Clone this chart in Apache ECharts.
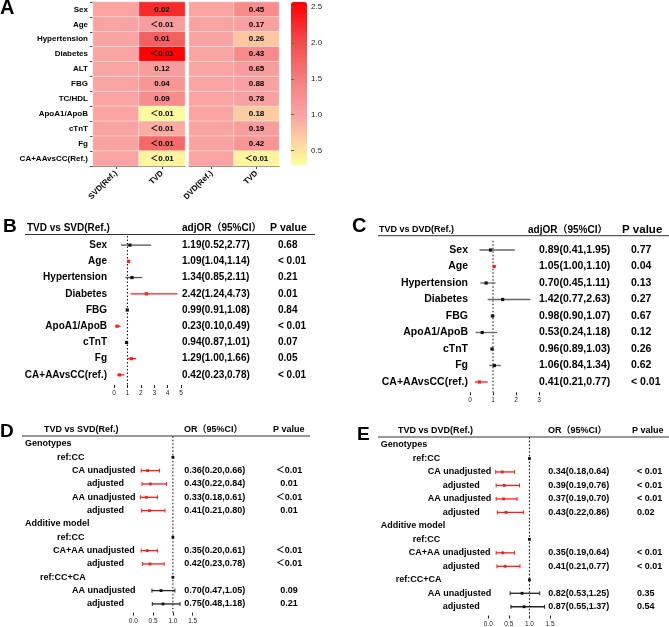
<!DOCTYPE html>
<html><head><meta charset="utf-8">
<script src="https://cdn.jsdelivr.net/npm/echarts@6/dist/echarts.min.js"></script>
<style>html,body{margin:0;padding:0;background:#fff}#c{width:669px;height:627px}#err{position:absolute;left:0;top:0;font:10px monospace;white-space:pre;color:#00f}</style>
</head><body><div id="c"></div><div id="err"></div>
<script>
// ---------- Panel A data (heatmap of OR, labelled with P values) ----------
const heatRows = ['Sex','Age','Hypertension','Diabetes','ALT','FBG','TC/HDL','ApoA1/ApoB','cTnT','Fg','CA+AAvsCC(Ref.)'];
const heatColsSVD = ['SVD(Ref.)','TVD'];
const heatColsDVD = ['DVD(Ref.)','TVD'];
const refOR = 1.0;
const heatOrSVD = [2.25,1.08,1.8,2.55,1.08,1.18,1.28,0.33,0.93,1.7,0.38];
const heatOrDVD = [1.3,1.05,0.72,1.32,1.08,1.03,1.05,0.68,1.08,1.18,0.38];
const heatPSVD = ['0.02','＜0.01','0.01','＜0.01','0.12','0.04','0.09','＜0.01','＜0.01','＜0.01','＜0.01'];
const heatPDVD = ['0.45','0.17','0.26','0.43','0.65','0.88','0.78','0.18','0.19','0.42','＜0.01'];
const heatScaleTicks = [0.5,1.0,1.5,2.0,2.5];
const heatScaleMin = 0.3, heatScaleMax = 2.57;

// ---------- Panel B ----------
const bRows = ['Sex','Age','Hypertension','Diabetes','FBG','ApoA1/ApoB','cTnT','Fg','CA+AAvsCC(ref.)'];
const bOR = [1.19,1.09,1.34,2.42,0.99,0.23,0.94,1.29,0.42];
const bLo = [0.52,1.04,0.85,1.24,0.91,0.10,0.87,1.00,0.23];
const bHi = [2.77,1.14,2.11,4.73,1.08,0.49,1.01,1.66,0.78];
const bP = ['0.68','< 0.01','0.21','0.01','0.84','< 0.01','0.07','0.05','< 0.01'];
const bTicks = [0,1,2,3,4,5];

// ---------- Panel C ----------
const cRows = ['Sex','Age','Hypertension','Diabetes','FBG','ApoA1/ApoB','cTnT','Fg','CA+AAvsCC(ref.)'];
const cOR = [0.89,1.05,0.70,1.42,0.98,0.53,0.96,1.06,0.41];
const cLo = [0.41,1.00,0.45,0.77,0.90,0.24,0.89,0.84,0.21];
const cHi = [1.95,1.10,1.11,2.63,1.07,1.18,1.03,1.34,0.77];
const cP = ['0.77','0.04','0.13','0.27','0.67','0.12','0.26','0.62','< 0.01'];
const cTicks = [0,1,2,3];

// ---------- Panel D ----------
const dRows = ['Genotypes','ref:CC','CA unadjusted','adjusted','AA unadjusted','adjusted','Additive model','ref:CC','CA+AA unadjusted','adjusted','ref:CC+CA','AA unadjusted','adjusted'];
const dOR = [null,1,0.36,0.43,0.33,0.41,null,1,0.35,0.42,1,0.70,0.75];
const dLo = [null,null,0.20,0.22,0.18,0.21,null,null,0.20,0.23,null,0.47,0.48];
const dHi = [null,null,0.66,0.84,0.61,0.80,null,null,0.61,0.78,null,1.05,1.18];
const dP = ['','','＜0.01','0.01','＜0.01','0.01','','','＜0.01','＜0.01','','0.09','0.21'];
const dTicks = [0,0.5,1.0,1.5];

// ---------- Panel E ----------
const eRows = ['Genotypes','ref:CC','CA unadjusted','adjusted','AA unadjusted','adjusted','Additive model','ref:CC','CA+AA unadjusted','adjusted','ref:CC+CA','AA unadjusted','adjusted'];
const eOR = [null,1,0.34,0.39,0.37,0.43,null,1,0.35,0.41,1,0.82,0.87];
const eLo = [null,null,0.18,0.19,0.19,0.22,null,null,0.19,0.21,null,0.53,0.55];
const eHi = [null,null,0.64,0.76,0.70,0.86,null,null,0.64,0.77,null,1.25,1.37];
const eP = ['','','< 0.01','< 0.01','< 0.01','0.02','','','< 0.01','< 0.01','','0.35','0.54'];
const eTicks = [0,0.5,1.0,1.5];

// ---------- styling / layout ----------
const FONT = '"Liberation Sans", Arial, "Noto Sans CJK SC", sans-serif';
const RED = '#ff1a1a', BLACK = '#111';
const rowIndent = [0,32,47,62,47,62,0,32,28,62,15,47,62];

const colorStops = [[0.3,[255,255,156]],[0.7,[252,201,160]],[1.0,[249,163,163]],[1.5,[246,124,124]],[2.0,[243,76,76]],[2.57,[255,0,0]]];
function colorAt(v){
  for (let i=0;i<colorStops.length-1;i++){
    const [a,ca]=colorStops[i],[b,cb]=colorStops[i+1];
    if (v<=b){const t=(v-a)/(b-a);return 'rgb('+ca.map((x,k)=>Math.round(x+(cb[k]-x)*t)).join(',')+')';}
  }
  return 'rgb(255,0,0)';
}
const heatColors=[];for(let i=0;i<=60;i++){heatColors.push(colorAt(heatScaleMin+(heatScaleMax-heatScaleMin)*i/60));}

const option = {animation:false, backgroundColor:'#fff', textStyle:{fontFamily:FONT},
  grid:[], xAxis:[], yAxis:[], series:[], graphic:[], visualMap:[]};

// ---------- heatmap ----------
function addHeat(cols, orVals, pVals, L, showY){
  const gi = option.grid.length;
  option.grid.push({left:L.left, top:L.top, width:L.width, height:L.height});
  option.xAxis.push({type:'category', gridIndex:gi, data:cols,
    axisLine:{lineStyle:{color:'#444'}}, axisTick:{show:true, alignWithLabel:true, length:3, lineStyle:{color:'#444'}},
    axisLabel:{rotate:45, fontSize:8, fontWeight:'bold', color:'#000', margin:6, interval:0, fontFamily:FONT}});
  option.yAxis.push({type:'category', gridIndex:gi, data:heatRows, inverse:true,
    axisLine:{show:showY, lineStyle:{color:'#444'}}, axisTick:{show:showY, length:3, lineStyle:{color:'#444'}},
    axisLabel:{show:showY, fontSize:8, fontWeight:'bold', color:'#000', margin:5, interval:0, fontFamily:FONT}});
  const data=[];
  heatRows.forEach((r,i)=>{data.push([0,i,refOR]);data.push([1,i,orVals[i]]);});
  option.series.push({type:'heatmap', xAxisIndex:gi, yAxisIndex:gi, data,
    itemStyle:{borderColor:'rgba(255,255,255,0.45)', borderWidth:1},
    label:{show:true, fontSize:8, fontWeight:'bold', color:'#000', fontFamily:FONT,
      formatter:p=>p.value[0]===1?pVals[p.value[1]]:''}});
  return option.series.length-1;
}
const s1 = addHeat(heatColsSVD, heatOrSVD, heatPSVD, {left:93, top:2, width:92, height:164}, true);
const s2 = addHeat(heatColsDVD, heatOrDVD, heatPDVD, {left:189, top:2, width:90, height:164}, false);
option.visualMap.push({type:'continuous', min:heatScaleMin, max:heatScaleMax, seriesIndex:[s1,s2],
  inRange:{color:heatColors}, orient:'vertical', left:291, top:2, itemWidth:16, itemHeight:163,
  calculable:false, padding:0, hoverLink:false});
// colour-bar scale axis
{
  const gi = option.grid.length;
  option.grid.push({left:291, top:2, width:16, height:163});
  option.xAxis.push({type:'value', gridIndex:gi, show:false, min:0, max:1});
  option.yAxis.push({type:'value', gridIndex:gi, position:'right', min:heatScaleMin, max:heatScaleMax, z:10,
    splitLine:{show:false}, axisLine:{show:false},
    axisTick:{show:true, length:3, customValues:heatScaleTicks, lineStyle:{color:'#666'}},
    axisLabel:{fontSize:8, color:'#222', margin:4, customValues:heatScaleTicks, formatter:v=>v.toFixed(1), fontFamily:FONT}});
}

// ---------- forest panels ----------
function ciText(o,lo,hi){return (o==null||lo==null)?'':o.toFixed(2)+'('+lo.toFixed(2)+','+hi.toFixed(2)+')';}
function addForest(rows, orV, loV, hiV, pV, ticks, L){
  const gi = option.grid.length;
  option.grid.push({left:L.left, top:L.top, width:L.width, height:L.height});
  const step = ticks[1]-ticks[0];
  option.xAxis.push({type:'value', gridIndex:gi, min:ticks[0], max:ticks[ticks.length-1], interval:step, offset:2,
    splitLine:{show:false}, axisLine:{lineStyle:{color:'#222', width:1}},
    axisTick:{show:true, length:3, lineStyle:{color:'#222'}},
    axisLabel:{fontSize:6.5, color:'#222', margin:5, fontFamily:FONT, formatter:v=>step<1?v.toFixed(1):String(v)}});
  const yb = option.yAxis.length;
  const lbl = {fontSize:L.fs, fontWeight:'bold', color:'#000', interval:0, fontFamily:FONT};
  if (L.indent){
    const rich={};rows.forEach((r,i)=>{rich['k'+i]={padding:[0,0,0,rowIndent[i]], fontSize:L.fs, fontWeight:'bold', color:'#000', fontFamily:FONT};});
    option.yAxis.push({type:'category', gridIndex:gi, inverse:true, data:rows, position:'left',
      axisLine:{show:false}, axisTick:{show:false}, splitLine:{show:false},
      axisLabel:Object.assign({}, lbl, {align:'left', margin:L.labelMargin, rich, formatter:(v,i)=>'{k'+i+'|'+v+'}'})});
  } else {
    option.yAxis.push({type:'category', gridIndex:gi, inverse:true, data:rows, position:'left',
      axisLine:{show:false}, axisTick:{show:false}, splitLine:{show:false},
      axisLabel:Object.assign({}, lbl, {margin:L.labelMargin})});
  }
  const ids = rows.map((r,i)=>String(i));
  option.yAxis.push({type:'category', gridIndex:gi, inverse:true, data:ids, position:'right',
    axisLine:{show:false}, axisTick:{show:false}, splitLine:{show:false},
    axisLabel:Object.assign({}, lbl, {align:'left', margin:L.orMargin, formatter:(v,i)=>ciText(orV[i],loV[i],hiV[i])})});
  option.yAxis.push({type:'category', gridIndex:gi, inverse:true, data:ids, position:'right',
    axisLine:{show:false}, axisTick:{show:false}, splitLine:{show:false},
    axisLabel:Object.assign({}, lbl, {align:L.pAlign, margin:L.pMargin, formatter:(v,i)=>pV[i]})});
  const data = orV.map((o,i)=>[i, o==null?'-':o, loV[i]==null?'-':loV[i], hiV[i]==null?'-':hiV[i]]);
  const nRows = rows.length;
  option.series.push({type:'custom', coordinateSystem:'cartesian2d', xAxisIndex:gi, yAxisIndex:yb, data,
    dimensions:[{name:'row', type:'ordinal'},{name:'or',type:'number'},{name:'lo',type:'number'},{name:'hi',type:'number'}],
    encode:{y:0, x:[1,2,3]}, silent:true, z:5,
    renderItem:(params, api)=>{
      const r=params.dataIndex, o=api.value(1), lo=api.value(2), hi=api.value(3);
      const kids=[];
      if (params.dataIndex===0){
        const band = api.size([0,1])[1];
        const t = api.coord([1,0]), b = api.coord([1,nRows-1]);
        kids.push({type:'line', shape:{x1:t[0],y1:t[1]-band/2-1,x2:b[0],y2:b[1]+band/2+2}, style:{stroke:'#000', lineWidth:1, lineDash:[1.5,2]}});
      }
      if (isNaN(o)) return {type:'group', children:kids};
      const hasCI = !isNaN(lo) && !isNaN(hi);
      const sig = hasCI && (lo>=1 || hi<=1);
      const c = api.coord([o, r]);
      if (hasCI){
        const a=api.coord([lo,r]), b=api.coord([hi,r]);
        const col = sig?RED:L.grey;
        kids.push({type:'line', shape:{x1:a[0],y1:a[1],x2:b[0],y2:b[1]}, style:{stroke:col, lineWidth:L.lw}});
        if (L.caps){
          kids.push({type:'line', shape:{x1:a[0],y1:a[1]-2,x2:a[0],y2:a[1]+2}, style:{stroke:col, lineWidth:1}});
          kids.push({type:'line', shape:{x1:b[0],y1:b[1]-2,x2:b[0],y2:b[1]+2}, style:{stroke:col, lineWidth:1}});
        }
      }
      const s = L.pt;
      kids.push({type:'rect', shape:{x:c[0]-s/2, y:c[1]-s/2, width:s, height:s}, style:{fill:sig?RED:BLACK}});
      return {type:'group', children:kids};
    }});
}
addForest(bRows,bOR,bLo,bHi,bP,bTicks,{left:114, top:237, width:67, height:146, fs:10, labelMargin:7, orMargin:1, pMargin:97, pAlign:'left', lw:1.3, caps:false, pt:3.2, grey:'#555'});
addForest(cRows,cOR,cLo,cHi,cP,cTicks,{left:470, top:241.75, width:69, height:148.5, fs:10.5, labelMargin:2, orMargin:0, pMargin:92, pAlign:'left', lw:1.3, caps:false, pt:3.2, grey:'#666'});
addForest(dRows,dOR,dLo,dHi,dP,dTicks,{left:133.3, top:437.3, width:59.4, height:173.3, fs:9, indent:true, labelMargin:108.3, orMargin:-8.4, pMargin:96.3, pAlign:'center', lw:1.3, caps:true, pt:2.8, grey:'#222'});
addForest(eRows,eOR,eLo,eHi,eP,eTicks,{left:488.3, top:438.25, width:61.7, height:175.5, fs:9, indent:true, labelMargin:107.6, orMargin:-1.7, pMargin:87, pAlign:'left', lw:1.3, caps:true, pt:2.8, grey:'#222'});

// ---------- headers, panel letters ----------
function txt(t,x,y,fs){option.graphic.push({type:'text', x, y, silent:true, style:{text:t, fontSize:fs, fontWeight:'bold', fontFamily:FONT, fill:'#000', align:'left', verticalAlign:'middle'}});}
function hline(x1,x2,y){option.graphic.push({type:'line', silent:true, shape:{x1,y1:y,x2,y2:y}, style:{stroke:'#333', lineWidth:1}});}
txt('A',0,8,20); txt('B',3,227,19); txt('C',352,226,20); txt('D',0,431.5,19); txt('E',357,434.5,19);
txt('TVD vs SVD(Ref.)',27,228,10); txt('adjOR（95%CI）',182,228,10); txt('P value',270,228,10.5); hline(25,315,234.5);
txt('TVD vs DVD(Ref.)',379,230,9); txt('adjOR（95%CI）',528,230,10); txt('P value',622,230,11.5); hline(378,669,235.7);
txt('TVD vs SVD(Ref.)',44,430,9); txt('OR（95%CI）',184,430,9); txt('P value',273,430,9); hline(22,310,436);
txt('TVD vs DVD(Ref.)',398,431,9); txt('OR（95%CI）',548,431,9); txt('P value',632,431,9); hline(378,669,437);

try {
  const chart = echarts.init(document.getElementById('c'), null, {renderer:'canvas'});
  chart.setOption(option);
} catch(e) { document.getElementById('err').textContent = String(e && e.stack || e).slice(0,1500); }
</script></body></html>
